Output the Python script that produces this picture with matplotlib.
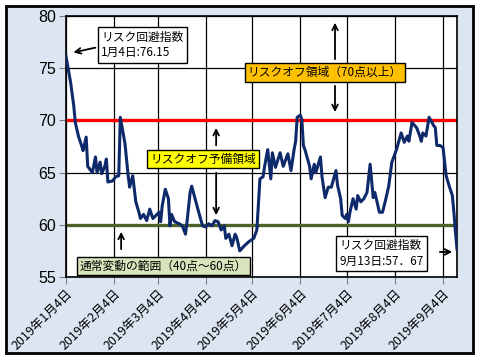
import numpy as np
import pandas as pd
import matplotlib
matplotlib.use("Agg")
import matplotlib.pyplot as plt
import matplotlib.dates as mdates
from matplotlib.patches import Rectangle

plt.rcParams['font.family'] = ['Noto Sans CJK JP', 'DejaVu Sans']

# リスク回避指数 (days after 2019-01-04)
day_offset = [0, 3, 5, 6, 8, 10, 11, 13, 14, 17, 19, 20, 22, 23, 25, 26, 27, 30, 32, 34,
              35, 38, 40, 41, 43, 45, 47, 48, 50, 52, 54, 56, 58, 60, 61, 62, 64, 66, 67, 68,
              70, 73, 75, 77, 78, 80, 81, 83, 85, 88, 90, 92, 94, 96, 98, 100, 102, 103, 105, 107,
              109, 110, 112, 115, 118, 121, 123, 124, 125, 127, 128, 130, 132, 133, 135, 138, 140, 143, 145, 147,
              148, 149, 151, 152, 153, 154, 157, 158, 160, 161, 164, 165, 167, 169, 171, 174, 175, 177, 178, 180,
              181, 182, 183, 185, 187, 188, 190, 192, 194, 196, 198, 199, 200, 202, 204, 206, 208, 210, 213, 216,
              218, 220, 221, 223, 226, 228, 229, 230, 232, 234, 237, 238, 239, 241, 243, 244, 245, 247, 249, 250,
              251, 252]
risk_index = [76.15, 73.6, 71.4, 69.8, 68.5, 67.6, 67.1, 68.4, 65.6, 65.0, 66.5, 65.0, 66.0, 64.9, 65.6, 66.3, 64.1, 64.2, 64.6, 64.7,
              70.3, 67.8, 64.8, 63.6, 64.7, 62.2, 61.2, 60.6, 61.0, 60.4, 61.5, 60.6, 60.9, 61.2, 60.3, 61.8, 63.4, 62.5, 59.9, 61.0,
              60.3, 60.1, 59.9, 59.1, 60.3, 63.1, 63.7, 62.6, 61.5, 59.9, 59.8, 60.1, 59.9, 60.4, 60.3, 59.5, 59.9, 58.7, 59.1, 58.0,
              59.1, 58.8, 57.5, 58.0, 58.4, 58.7, 59.5, 62.0, 64.4, 64.6, 65.6, 67.2, 64.4, 66.9, 65.5, 66.9, 65.6, 66.8, 65.2, 67.2,
              68.0, 70.3, 70.5, 70.1, 67.6, 67.2, 65.6, 64.4, 65.8, 65.0, 66.5, 64.6, 62.6, 63.6, 63.6, 65.2, 63.8, 62.5, 60.9, 60.6,
              61.0, 60.3, 61.2, 62.5, 61.5, 62.8, 62.2, 62.5, 63.1, 65.8, 62.6, 63.1, 62.5, 61.2, 61.2, 62.4, 63.7, 66.0, 67.2, 68.8,
              67.9, 68.5, 68.0, 69.8, 69.3, 68.5, 68.0, 68.8, 68.5, 70.3, 69.5, 69.3, 67.6, 67.6, 67.4, 66.0, 64.7, 63.7, 62.8, 61.2,
              59.3, 57.67]

start_date = '2019-01-04'
end_date = '2019-09-13'
tick_dates = ['2019-01-04', '2019-02-04', '2019-03-04', '2019-04-04', '2019-05-04',
              '2019-06-04', '2019-07-04', '2019-08-04', '2019-09-04']
tick_labels = ['2019年1月4日', '2019年2月4日', '2019年3月4日', '2019年4月4日', '2019年5月4日',
               '2019年6月4日', '2019年7月4日', '2019年8月4日', '2019年9月4日']
risk_off_level = 70
normal_level = 60

dates = pd.Timestamp(start_date) + pd.to_timedelta(day_offset, unit='D')

fig = plt.figure(figsize=(4.8, 3.6), dpi=100)
fig.patch.set_facecolor('white')
# outer frame of the chart area
fig.patches.append(Rectangle((6 / 480, 1 - 353 / 360), 467 / 480, 347 / 360,
                             transform=fig.transFigure, facecolor='#dce6f2',
                             edgecolor='black', linewidth=2, zorder=-10))

ax = fig.add_axes([66 / 480, 1 - 277 / 360, 391 / 480, 261 / 360])
ax.set_facecolor('white')
ax.set_zorder(1)

ax.set_ylim(55, 80)
ax.set_yticks([55, 60, 65, 70, 75, 80])
ax.set_xlim(pd.Timestamp(start_date), pd.Timestamp(end_date))
ax.set_xticks(pd.to_datetime(tick_dates))
ax.set_xticklabels(tick_labels, rotation=45, ha='right', rotation_mode='anchor', fontsize=9)
for lab in ax.get_yticklabels():
    lab.set_family(['Liberation Sans'])
    lab.set_fontsize(11.5)

ax.grid(True, color='black', linewidth=0.9)
ax.set_axisbelow(True)
for s in ax.spines.values():
    s.set_color('black')
    s.set_linewidth(1.2)
ax.tick_params(axis='both', direction='out', length=5, color='#808080', pad=2)

ax.axhline(risk_off_level, color='#ff0000', linewidth=2.4, zorder=2)
ax.axhline(normal_level, color='#4f6228', linewidth=2.4, zorder=2)
ax.plot(dates, risk_index, color='#0e2a6a', linewidth=2.2, zorder=3)

fs = 8.5
arrow_kw = dict(arrowstyle='->', color='black', lw=1.3, mutation_scale=10)

# start value
ax.text(0.09, 0.889, 'リスク回避指数\n1月4日:76.15', transform=ax.transAxes, fontsize=fs,
        va='center', ha='left', linespacing=1.25, zorder=5,
        bbox=dict(boxstyle='square,pad=0.3', facecolor='white', edgecolor='black', linewidth=1))
ax.annotate('', xy=(0.012, 0.858), xytext=(0.082, 0.881), xycoords='axes fraction',
            textcoords='axes fraction', arrowprops=arrow_kw, zorder=5)

# risk-off area
ax.text(0.662, 0.784, 'リスクオフ領域（70点以上）', transform=ax.transAxes, fontsize=fs,
        va='center', ha='center', zorder=5,
        bbox=dict(boxstyle='square,pad=0.25', facecolor='#ffc000', edgecolor='black', linewidth=1))
ax.annotate('', xy=(0.688, 0.985), xytext=(0.688, 0.824), xycoords='axes fraction',
            textcoords='axes fraction', arrowprops=arrow_kw, zorder=5)
ax.annotate('', xy=(0.688, 0.621), xytext=(0.688, 0.743), xycoords='axes fraction',
            textcoords='axes fraction', arrowprops=arrow_kw, zorder=5)

# preliminary risk-off area
ax.text(0.350, 0.452, 'リスクオフ予備領域', transform=ax.transAxes, fontsize=fs,
        va='center', ha='center', zorder=5,
        bbox=dict(boxstyle='square,pad=0.25', facecolor='#ffff00', edgecolor='black', linewidth=1))
ax.annotate('', xy=(0.384, 0.582), xytext=(0.384, 0.494), xycoords='axes fraction',
            textcoords='axes fraction', arrowprops=arrow_kw, zorder=5)
ax.annotate('', xy=(0.384, 0.226), xytext=(0.384, 0.410), xycoords='axes fraction',
            textcoords='axes fraction', arrowprops=arrow_kw, zorder=5)

# normal range
ax.text(0.249, 0.042, '通常変動の範囲（40点～60点）', transform=ax.transAxes, fontsize=fs,
        va='center', ha='center', zorder=5,
        bbox=dict(boxstyle='square,pad=0.25', facecolor='#d8e4bc', edgecolor='black', linewidth=1))
ax.annotate('', xy=(0.141, 0.184), xytext=(0.141, 0.096), xycoords='axes fraction',
            textcoords='axes fraction', arrowprops=arrow_kw, zorder=5)

# latest value
ax.text(0.7, 0.090, 'リスク回避指数\n9月13日:57．67', transform=ax.transAxes, fontsize=fs,
        va='center', ha='left', linespacing=1.25, zorder=5,
        bbox=dict(boxstyle='square,pad=0.3', facecolor='white', edgecolor='black', linewidth=1))
ax.annotate('', xy=(0.995, 0.096), xytext=(0.949, 0.096), xycoords='axes fraction',
            textcoords='axes fraction', arrowprops=arrow_kw, zorder=5)

fig.savefig('out.png', dpi=100, facecolor=fig.get_facecolor())
